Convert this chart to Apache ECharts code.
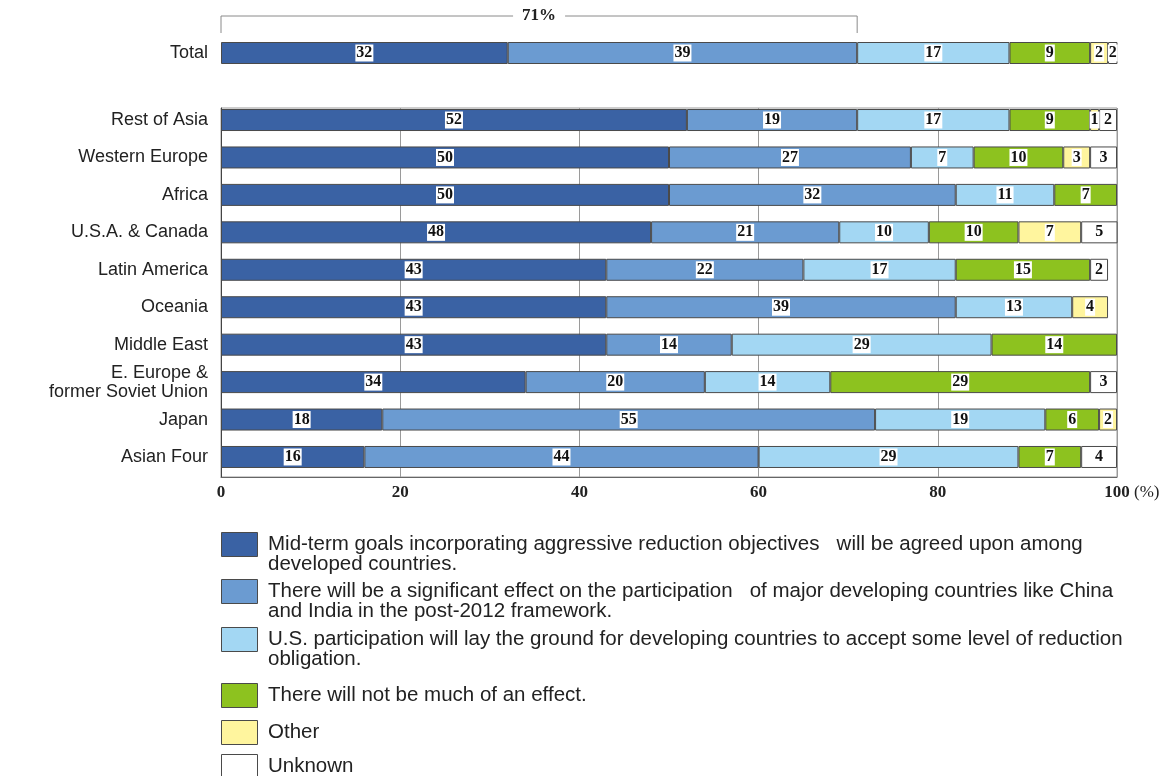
<!DOCTYPE html>
<html>
<head>
<meta charset="utf-8">
<script src="https://cdn.jsdelivr.net/npm/echarts@6/dist/echarts.min.js"></script>
<style>
  html, body { margin: 0; padding: 0; background: #fff; }
  #chart { width: 1173px; height: 776px; }
</style>
</head>
<body>
<div id="chart"></div>
<script>
// Survey responses by region (%), stacked left to right
const categories = ['Rest of Asia', 'Western Europe', 'Africa', 'U.S.A. & Canada', 'Latin America',
  'Oceania', 'Middle East', 'E. Europe &\nformer Soviet Union', 'Japan', 'Asian Four'];

const seriesNames = [
  'Mid-term goals incorporating aggressive reduction objectives   will be agreed upon among\ndeveloped countries.',
  'There will be a significant effect on the participation   of major developing countries like China\nand India in the post-2012 framework.',
  'U.S. participation will lay the ground for developing countries to accept some level of reduction\nobligation.',
  'There will not be much of an effect.',
  'Other',
  'Unknown'
];

const midTermGoals    = [52, 50, 50, 48, 43, 43, 43, 34, 18, 16];
const significant     = [19, 27, 32, 21, 22, 39, 14, 20, 55, 44];
const usParticipation = [17,  7, 11, 10, 17, 13, 29, 14, 19, 29];
const littleEffect    = [ 9, 10,  7, 10, 15,  0, 14, 29,  6,  7];
const other           = [ 1,  3,  0,  7,  0,  4,  0,  0,  2,  0];
const unknown         = [ 2,  3,  0,  5,  2,  0,  0,  3,  1,  4];

const totalCategory = ['Total'];
const totalValues = [32, 39, 17, 9, 2, 2];

const xTicks = [0, 20, 40, 60, 80, 100];

const regionSeries = [midTermGoals, significant, usParticipation, littleEffect, other, unknown];
const colors = ['#3a62a4', '#6b9bd1', '#a3d7f3', '#8dc21f', '#fff59e', '#ffffff'];

const SANS = '"Liberation Sans", Arial, sans-serif';
const SERIF = '"Liberation Serif", "Times New Roman", serif';
const EDGE = '#4a4a4a';

const chart = echarts.init(document.getElementById('chart'), null, { renderer: 'canvas' });

const barLabel = {
  show: true,
  position: 'inside',
  fontFamily: SERIF,
  fontWeight: 'bold',
  fontSize: 16,
  color: '#111',
  backgroundColor: '#fff',
  padding: [1, 1, 0, 1],
  formatter: p => (p.value ? String(p.value) : '')
};

const barStyle = (i) => ({ color: colors[i], borderColor: EDGE, borderWidth: 1 });

const series = [];
seriesNames.forEach((name, i) => {
  series.push({
    name, type: 'bar', stack: 'regions', xAxisIndex: 1, yAxisIndex: 1,
    barWidth: 22, itemStyle: barStyle(i), label: barLabel,
    data: regionSeries[i].map(v => (v ? v : null))
  });
  series.push({
    name, type: 'bar', stack: 'total', xAxisIndex: 0, yAxisIndex: 0,
    barWidth: 22, itemStyle: barStyle(i), label: barLabel,
    data: [totalValues[i] ? totalValues[i] : null]
  });
});

const valueAxisBase = { type: 'value', min: 0, max: 100, interval: 20 };

const option = {
  animation: false,
  backgroundColor: '#fff',
  grid: [
    { left: 221, right: 56, top: 42, height: 22 },
    { left: 221, right: 56, top: 101.3, height: 374.4 },
    { left: 221, right: 56, top: 108, height: 369, show: true, borderColor: '#9a9a9a', borderWidth: 1, backgroundColor: 'transparent' }
  ],
  xAxis: [
    Object.assign({ gridIndex: 0, show: false }, valueAxisBase),
    Object.assign({ gridIndex: 1, show: false }, valueAxisBase),
    Object.assign({ gridIndex: 2 }, valueAxisBase, {
      axisLine: { show: true, lineStyle: { color: '#666', width: 1 } },
      axisTick: { show: false },
      splitLine: { show: true, lineStyle: { color: '#9a9a9a', width: 1 } },
      axisLabel: {
        fontFamily: SERIF, fontWeight: 'bold', fontSize: 17, color: '#222', margin: 7,
        customValues: xTicks
      },
      name: '(%)',
      nameLocation: 'end',
      nameGap: 17,
      nameTextStyle: { fontFamily: SERIF, fontSize: 17, color: '#222', verticalAlign: 'top', padding: [7, 0, 0, 0] }
    })
  ],
  yAxis: [
    {
      type: 'category', gridIndex: 0, data: totalCategory,
      axisLine: { show: false }, axisTick: { show: false },
      axisLabel: { fontFamily: SANS, fontSize: 18, color: '#222', margin: 13 }
    },
    {
      type: 'category', gridIndex: 1, data: categories, inverse: true,
      axisLine: { show: false }, axisTick: { show: false },
      axisLabel: { fontFamily: SANS, fontSize: 18, lineHeight: 19, color: '#222', margin: 13 }
    },
    {
      type: 'value', gridIndex: 2, min: 0, max: 1,
      axisLine: { show: true, lineStyle: { color: '#444', width: 1 } },
      axisTick: { show: false }, axisLabel: { show: false }, splitLine: { show: false }
    }
  ],
  series
};

chart.setOption(option);

// bracket over the first two answers of the total bar
const shareTop = totalValues[0] + totalValues[1];
const xStart = chart.convertToPixel({ xAxisIndex: 0 }, 0);
const xEnd = chart.convertToPixel({ xAxisIndex: 0 }, shareTop);
const yLine = 16, yFoot = 33;

const graphics = [
  {
    type: 'polyline', silent: true,
    shape: { points: [[xStart, yFoot], [xStart, yLine], [xEnd, yLine], [xEnd, yFoot]] },
    style: { stroke: '#8a8a8a', lineWidth: 1, fill: null }
  },
  {
    type: 'text', silent: true,
    x: (xStart + xEnd) / 2, y: yLine,
    style: {
      text: shareTop + '%', fontFamily: SERIF, fontWeight: 'bold', fontSize: 17, fill: '#222',
      align: 'center', verticalAlign: 'middle', backgroundColor: '#fff', padding: [0, 9]
    }
  }
];

// key below the chart: swatch + wrapped answer text, swatch aligned with first line
const keyTops = [532, 579, 627, 683, 720, 754];
seriesNames.forEach((name, i) => {
  graphics.push({
    type: 'rect', silent: true,
    shape: { x: xStart + 0.5, y: keyTops[i] + 0.5, width: 36, height: 24 },
    style: { fill: colors[i], stroke: EDGE, lineWidth: 1 }
  });
  graphics.push({
    type: 'text', silent: true,
    x: xStart + 47, y: keyTops[i] + 2,
    style: {
      text: name, fontFamily: SANS, fontSize: 20.5, lineHeight: 20, fill: '#222',
      align: 'left', verticalAlign: 'top'
    }
  });
});

chart.setOption({ graphic: graphics });
</script>
</body>
</html>
